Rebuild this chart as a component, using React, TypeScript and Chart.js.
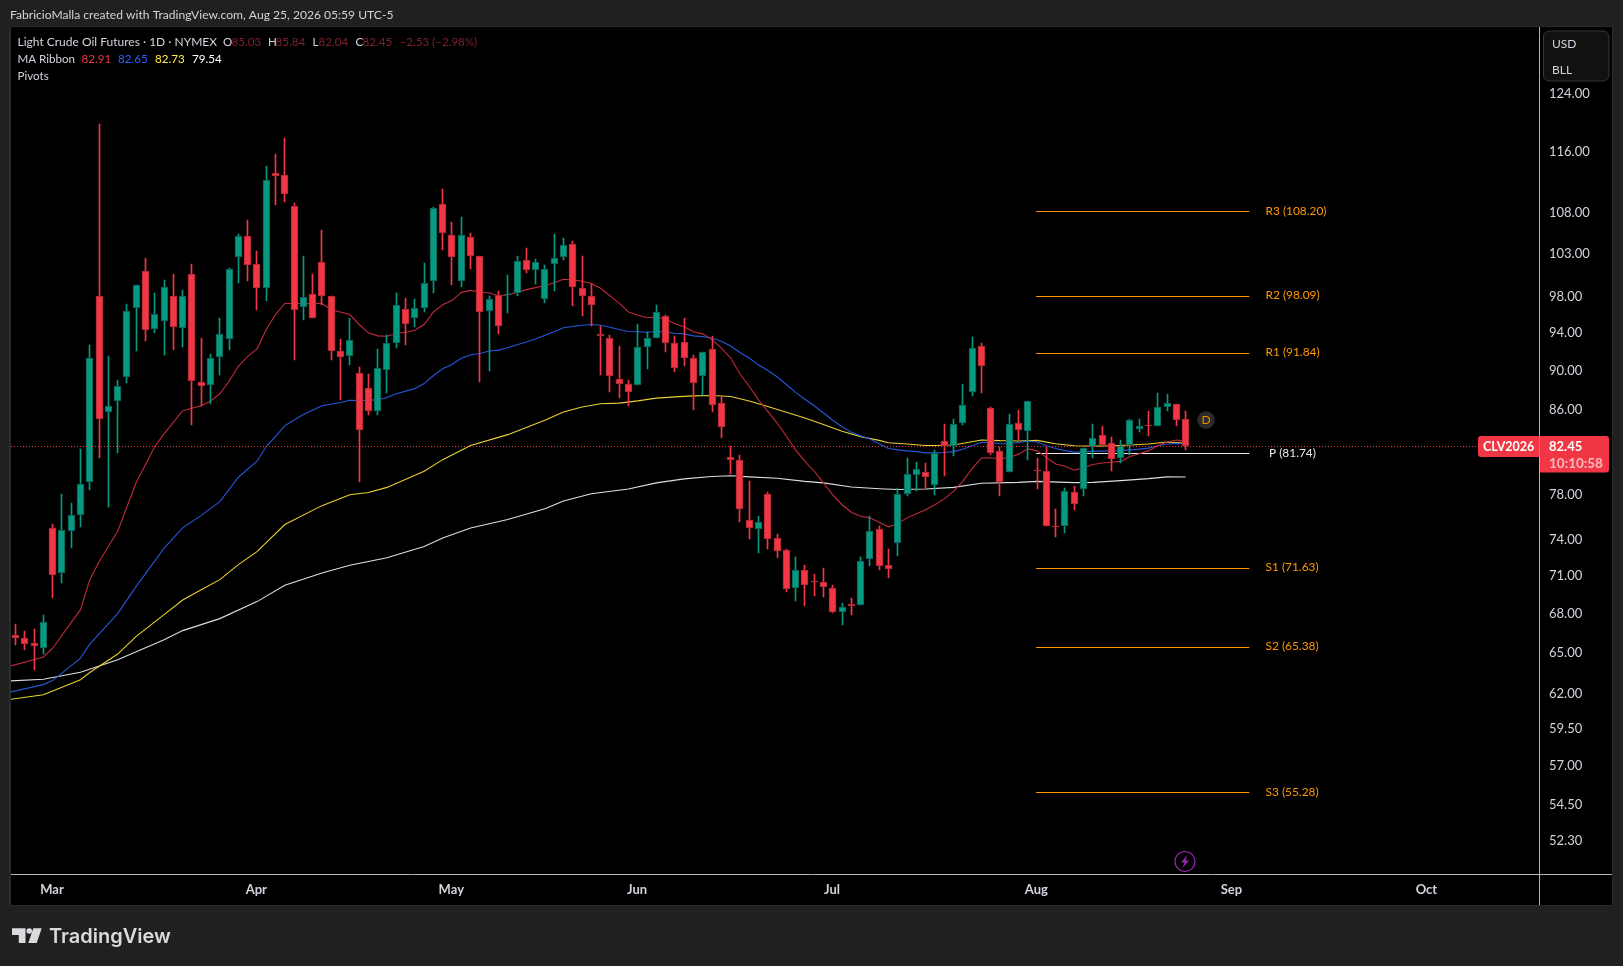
import React, { useEffect, useRef } from "react";
import { Chart, registerables } from "chart.js";

Chart.register(...registerables);

// Bars are addressed by trading-session index; index 0 is the first bar in view.
const opens = [66.27,66.04,65.65,65.31,75.00,71.19,74.73,76.13,79.09,98.04,85.71,86.85,89.30,96.70,100.95,94.40,95.28,98.04,94.51,100.60,88.78,88.47,91.37,93.30,102.57,105.10,101.76,98.97,113.05,112.70,108.83,96.81,98.27,101.99,98.04,92.00,91.48,89.71,88.16,85.85,90.03,92.86,96.59,95.60,96.70,99.78,109.04,105.23,99.78,105.00,102.64,96.37,98.21,98.20,98.39,102.22,101.06,97.69,101.76,102.57,104.12,98.97,98.04,93.85,93.41,89.07,88.55,88.47,92.43,93.41,95.82,92.86,92.97,91.27,89.41,92.21,86.63,81.40,81.12,75.69,74.91,77.99,74.13,73.09,69.96,71.44,70.50,70.45,69.96,68.05,68.67,68.59,72.35,74.91,71.85,73.69,77.99,79.74,80.01,78.79,82.92,82.43,84.68,87.75,92.54,86.14,81.95,79.98,84.68,83.89,80.15,80.11,75.14,75.17,78.17,78.45,82.36,83.47,82.72,81.30,82.53,84.09,84.50,84.38,86.24,86.53,85.03];
const highs = [67.14,66.60,66.76,67.84,75.37,78.00,77.20,82.17,92.68,119.55,91.51,89.02,97.17,99.35,102.49,98.42,99.82,100.52,98.77,101.79,93.45,91.72,95.53,101.33,105.39,106.99,103.30,114.00,115.57,117.75,109.16,102.72,100.52,105.76,98.07,93.34,95.53,90.37,89.64,92.24,93.77,98.42,97.84,97.73,101.91,108.71,111.00,106.74,107.48,105.51,102.72,98.07,98.65,100.40,102.72,103.67,102.37,101.64,105.27,104.90,104.53,102.72,99.43,94.76,93.74,92.57,89.02,94.87,94.10,97.06,95.97,93.66,95.53,91.61,91.89,93.66,87.29,82.43,81.61,79.21,76.07,78.20,74.50,73.17,72.53,71.88,71.14,71.63,70.23,68.79,69.16,72.53,76.07,75.17,73.20,78.54,81.33,80.96,80.87,82.07,84.61,85.10,88.61,93.55,92.90,86.24,82.39,85.58,85.97,86.82,81.33,82.39,76.68,78.54,78.75,82.27,84.61,84.41,83.34,83.05,85.07,85.10,85.87,87.68,87.57,86.56,85.84];
const lows = [65.52,65.13,63.61,64.82,69.19,70.40,73.31,75.05,78.32,81.27,76.79,81.82,88.64,92.06,93.04,93.92,91.54,92.16,92.46,84.44,86.36,86.53,89.54,92.16,99.50,99.72,96.51,97.50,108.95,109.24,91.09,95.34,95.60,97.06,91.09,86.95,90.58,79.06,85.49,85.49,87.68,92.38,92.68,94.62,96.29,98.42,103.42,99.35,99.12,101.10,88.74,89.88,93.88,96.19,98.07,100.63,99.47,97.28,98.65,102.18,96.95,95.86,94.76,89.44,87.78,87.16,86.36,88.47,90.16,93.41,91.92,89.75,90.47,85.97,87.44,85.78,83.24,79.77,75.55,74.05,72.86,73.20,72.45,69.68,68.92,68.54,69.33,69.25,67.94,67.07,67.84,68.59,71.79,71.47,70.81,72.62,77.83,78.22,78.57,77.92,79.61,81.45,84.51,87.36,87.68,81.61,77.83,79.98,83.05,81.08,78.47,75.17,74.24,74.59,76.59,77.83,81.33,82.53,80.13,80.81,81.58,83.83,83.44,84.38,85.87,84.41,82.04];
const closes = [66.00,65.54,65.39,67.27,71.00,74.82,76.09,78.91,91.27,85.07,86.34,88.40,96.37,99.27,94.29,96.04,99.04,94.62,98.04,88.89,88.36,91.27,93.85,101.21,105.10,101.64,98.97,112.14,112.61,110.31,96.48,97.92,95.60,98.04,92.06,91.37,93.15,83.99,85.85,90.19,92.86,97.03,94.95,96.66,99.48,108.55,105.47,102.57,105.23,102.69,96.26,97.69,94.73,98.30,102.06,101.01,101.99,101.17,102.41,103.95,99.09,98.04,97.03,93.63,89.41,88.55,87.75,92.43,93.41,96.26,92.86,90.23,91.27,88.68,91.89,86.43,84.29,81.12,76.65,75.00,75.52,74.04,73.00,69.88,71.44,70.21,70.42,70.04,68.05,68.43,68.56,72.18,74.73,71.77,71.52,77.99,79.83,80.29,79.55,81.77,82.43,84.58,86.43,92.32,90.44,81.82,79.06,84.58,83.99,86.82,80.05,75.17,75.07,78.27,77.09,82.24,83.21,82.53,81.21,82.43,84.97,84.38,84.44,86.24,86.63,84.97,82.45];

const ma1Index = [-0.5,3,4,6,7,8,9,11,12,13,15,16,18,20,21,22,23,24,25,26,27,28,29,33,34,36,37,38,39,40,41,42,43,44,45,46,47,48,49,50,51,52,53,54,55,56,57,58,59,60,61,62,63,64,65,66,67,68,69,70,71,72,73,74,75,76,77,78,79,80,81,82,83,84,85,86,87,88,89,90,91,92,93,94,95,96,97,98,99,100,101,102,103,104,105,106,107,108,109,110,111,112,113,114,115,116,117,118,119,120,121,122,123,124,125,126];
const ma1Values = [63.94,64.60,65.26,67.24,68.23,70.64,72.12,74.70,76.85,79.03,82.39,83.60,85.88,86.36,86.85,87.57,88.85,90.40,91.44,92.21,94.32,95.97,97.20,97.20,96.51,95.97,94.87,93.96,93.63,93.59,93.88,94.03,94.25,94.87,96.26,97.06,97.53,98.46,98.69,98.50,98.39,98.07,98.19,98.46,98.77,99.00,99.24,99.55,99.96,99.89,99.73,99.47,98.92,98.07,97.25,96.26,95.89,95.64,95.67,95.49,94.95,94.62,94.07,93.85,93.23,92.32,91.27,89.62,88.34,86.95,85.81,84.68,83.37,82.07,80.99,80.07,79.00,77.92,77.03,76.36,76.01,75.87,75.49,75.09,75.37,75.87,76.24,76.59,77.03,77.55,78.22,79.14,80.32,81.30,81.33,81.21,81.36,81.67,82.17,81.98,81.36,80.75,80.53,80.16,80.38,80.69,80.84,80.90,80.99,81.45,81.70,82.00,82.46,82.82,83.02,82.91];

const ma2Index = [-0.5,3,4,7,8,11,13,16,18,20,22,24,26,27,28,29,31,33,35,36,37,39,40,41,43,44,45,46,47,48,49,50,51,52,53,54,55,56,57,58,59,60,61,62,63,64,65,66,67,68,69,70,71,72,73,74,75,76,77,78,79,80,81,82,83,84,85,86,87,88,89,90,91,92,93,94,95,96,97,98,99,100,101,102,103,104,105,106,107,108,109,110,111,112,113,114,115,116,117,118,119,120,121,122,123,124,125,126];
const ma2Values = [62.05,62.57,62.86,64.52,65.57,67.92,70.09,73.26,75.00,76.09,77.31,79.52,81.00,82.39,83.37,84.41,85.49,86.36,86.69,86.92,86.88,86.95,87.19,87.57,88.09,88.61,89.44,90.13,90.58,91.23,91.61,91.75,92.00,92.10,92.35,92.68,92.97,93.30,93.70,94.07,94.51,94.65,94.79,94.87,94.79,94.57,94.32,94.10,94.07,94.03,94.10,94.07,93.92,93.85,93.63,93.55,93.37,93.04,92.54,91.85,91.27,90.55,89.96,89.31,88.51,87.71,87.02,86.36,85.65,84.93,84.29,83.76,83.41,83.11,82.66,82.20,82.07,81.98,81.91,81.79,81.79,81.82,81.91,82.14,82.46,82.78,82.82,82.66,82.66,82.78,82.92,82.82,82.46,82.20,82.00,81.86,81.86,81.95,81.95,81.98,82.00,82.07,82.14,82.24,82.46,82.63,82.69,82.65];

const ma3Index = [-0.5,3,7,8,11,13,16,18,20,22,24,26,29,33,36,38,40,44,46,49,53,57,59,61,63,65,67,69,71,73,75,77,79,81,83,85,87,89,91,93,94,96,98,99,101,103,104,106,108,110,112,114,116,118,120,122,124,126];
const ma3Values = [61.52,61.84,62.93,63.45,64.82,66.16,67.84,69.00,69.82,70.64,71.88,72.97,75.29,76.95,77.92,78.13,78.59,80.07,81.15,82.49,83.53,84.93,85.75,86.24,86.56,86.63,86.85,87.13,87.26,87.36,87.40,87.29,86.85,86.30,85.71,85.16,84.51,83.86,83.34,82.98,82.75,82.63,82.49,82.49,82.53,82.85,83.02,82.95,82.92,82.98,82.66,82.46,82.43,82.46,82.53,82.63,82.82,82.73];

const ma4Index = [-0.5,3,7,11,16,18,22,26,29,33,36,40,44,46,49,53,57,59,62,66,69,72,75,77,79,82,85,87,90,93,95,98,101,104,108,110,114,116,119,122,124,126];
const ma4Values = [62.84,62.96,63.47,64.40,65.90,66.60,67.53,68.87,70.18,71.19,71.82,72.45,73.40,74.12,74.99,75.72,76.68,77.37,78.01,78.45,79.00,79.37,79.58,79.65,79.55,79.42,79.14,79.00,78.63,78.47,78.40,78.45,78.59,78.96,79.05,79.14,79.02,79.05,79.21,79.39,79.55,79.54];

const pivotNames = ["R3","R2","R1","P","S1","S2","S3"];
const pivotLevels = [108.2,98.09,91.84,81.74,71.63,65.38,55.28];
const pivotSpan = [109.9,132.85];

const priceTicks = [124,116,108,103,98,94,90,86,78,74,71,68,65,62,59.5,57,54.5,52.3];
const monthNames = ["Mar","Apr","May","Jun","Jul","Aug","Sep","Oct"];
const monthIndex = [4,26,47,67,88,110,131,152];

const lastPrice = 82.45;
const UI_FONT = "Lato";
const TEXT = "#d1d4dc";
const RED = "#f23645";
const GREEN = "#089981";
const ORANGE = "#ff9800";

function text(ctx: CanvasRenderingContext2D, s: string, x: number, y: number, color: string, font: string) {
  ctx.font = font;
  ctx.fillStyle = color;
  ctx.textAlign = "left";
  ctx.textBaseline = "middle";
  ctx.fillText(s, x, y);
}

// Nudges the axis labels by a fixed offset after the scale has laid them out.
function nudgeLabels(scale: any, dx: number, dy: number) {
  const compute = scale._computeLabelItems;
  scale._computeLabelItems = function (area: any) {
    return compute.call(this, area).map((item: any) => ({
      ...item,
      options: {
        ...item.options,
        translation: [item.options.translation[0] + dx, item.options.translation[1] + dy],
      },
    }));
  };
}

const snapPlugin = {
  id: "snap",
  beforeDatasetsDraw(chart: any) {
    chart.data.datasets.forEach((ds: any, d: number) => {
      const meta = chart.getDatasetMeta(d);
      if (ds.kind === "wick" || ds.kind === "body") {
        meta.data.forEach((el: any) => {
          el.x = Math.floor(el.x) + 0.5;
          const a = Math.round(el.y);
          let b = Math.round(el.base);
          if (a === b) b = a + 1;
          el.y = a;
          el.base = b;
        });
      }
      if (ds.kind === "level") {
        meta.data.forEach((el: any) => {
          el.y = Math.round(el.y) + 0.5;
        });
      }
    });
  },
};

const framePlugin = {
  id: "frame",
  beforeDraw(chart: any) {
    const ctx = chart.ctx;
    ctx.save();
    ctx.fillStyle = "#202020";
    ctx.fillRect(0, 0, chart.width, chart.height);
    ctx.fillStyle = "#2a2a2a";
    ctx.fillRect(9, 26, 1604, 880);
    ctx.fillStyle = "#000000";
    ctx.fillRect(11, 27, 1601, 878);
    ctx.restore();
  },
  afterDraw(chart: any) {
    const ctx: CanvasRenderingContext2D = chart.ctx;
    const y = chart.scales.y;
    ctx.save();

    // Axis rules
    ctx.strokeStyle = "#b2b5be";
    ctx.lineWidth = 1;
    ctx.beginPath();
    ctx.moveTo(1539.5, 27);
    ctx.lineTo(1539.5, 905);
    ctx.moveTo(11, 874.5);
    ctx.lineTo(1612, 874.5);
    ctx.stroke();

    // Export header and legend
    text(ctx, "FabricioMalla created with TradingView.com, Aug 25, 2026 05:59 UTC-5", 10, 15, TEXT, `12.1px ${UI_FONT}`);
    const legendFont = `11.6px ${UI_FONT}`;
    const dim = "#7d222b";
    text(ctx, "Light Crude Oil Futures · 1D · NYMEX", 17.5, 42.5, TEXT, `12px ${UI_FONT}`);
    text(ctx, "O", 223, 42.5, TEXT, legendFont);
    text(ctx, "85.03", 231.5, 42.5, dim, legendFont);
    text(ctx, "H", 268, 42.5, TEXT, legendFont);
    text(ctx, "85.84", 275.5, 42.5, dim, legendFont);
    text(ctx, "L", 312.5, 42.5, TEXT, legendFont);
    text(ctx, "82.04", 318.5, 42.5, dim, legendFont);
    text(ctx, "C", 355.5, 42.5, TEXT, legendFont);
    text(ctx, "82.45", 362.5, 42.5, dim, legendFont);
    text(ctx, "−2.53 (−2.98%)", 399.5, 42.5, dim, legendFont);
    text(ctx, "MA Ribbon", 17.5, 59.5, TEXT, legendFont);
    text(ctx, "82.91", 81.5, 59.5, RED, legendFont);
    text(ctx, "82.65", 118, 59.5, "#2962ff", legendFont);
    text(ctx, "82.73", 155, 59.5, "#ffeb3b", legendFont);
    text(ctx, "79.54", 192, 59.5, "#ffffff", legendFont);
    text(ctx, "Pivots", 17.5, 76.5, TEXT, legendFont);

    // Pivot labels
    pivotNames.forEach((name, k) => {
      const py = y.getPixelForValue(pivotLevels[k]);
      const isP = name === "P";
      text(ctx, `${name} (${pivotLevels[k].toFixed(2)})`, isP ? 1269 : 1265.5, py, isP ? "#e8e8e8" : ORANGE, `11.9px ${UI_FONT}`);
    });

    // Unit box
    ctx.fillStyle = "#131010";
    ctx.strokeStyle = "#363636";
    ctx.beginPath();
    ctx.roundRect(1543.5, 31, 65.5, 50, 6);
    ctx.fill();
    ctx.stroke();
    text(ctx, "USD", 1552, 44.5, TEXT, `12px ${UI_FONT}`);
    text(ctx, "BLL", 1552, 70.5, TEXT, `12px ${UI_FONT}`);

    // Last price tags
    ctx.fillStyle = RED;
    ctx.beginPath();
    ctx.roundRect(1478, 436, 61.5, 21, [3, 0, 0, 3]);
    ctx.fill();
    ctx.beginPath();
    ctx.roundRect(1540, 436, 69, 36.5, [0, 3, 3, 0]);
    ctx.fill();
    text(ctx, "CLV2026", 1483, 447, "#ffffff", `700 12.5px ${UI_FONT}`);
    text(ctx, lastPrice.toFixed(2), 1549, 447, "#ffffff", `700 13px ${UI_FONT}`);
    text(ctx, "10:10:58", 1549, 463.5, "rgba(255,255,255,0.65)", `700 13.5px ${UI_FONT}`);

    // "D" badge
    ctx.fillStyle = "#2b2b2b";
    ctx.beginPath();
    ctx.arc(1206, 420, 8.7, 0, Math.PI * 2);
    ctx.fill();
    ctx.textAlign = "center";
    ctx.textBaseline = "middle";
    ctx.font = `12px ${UI_FONT}`;
    ctx.fillStyle = "#e68a00";
    ctx.fillText("D", 1206, 420.5);

    // Lightning badge
    ctx.strokeStyle = "#9c27b0";
    ctx.lineWidth = 1.2;
    ctx.beginPath();
    ctx.ellipse(1185, 861.5, 10, 10, 0, 0, Math.PI * 2);
    ctx.stroke();
    ctx.fillStyle = "#9c27b0";
    ctx.beginPath();
    ctx.moveTo(1187.5, 855);
    ctx.lineTo(1181, 862.5);
    ctx.lineTo(1184.5, 862.5);
    ctx.lineTo(1182.5, 868);
    ctx.lineTo(1189, 860.5);
    ctx.lineTo(1185.5, 860.5);
    ctx.closePath();
    ctx.fill();

    // TradingView mark
    ctx.fillStyle = "#d9dadd";
    ctx.beginPath();
    ctx.moveTo(12, 928.3);
    ctx.lineTo(25.5, 928.3);
    ctx.lineTo(25.5, 943);
    ctx.lineTo(18.8, 943);
    ctx.lineTo(18.8, 935);
    ctx.lineTo(12, 935);
    ctx.closePath();
    ctx.moveTo(28.3, 943);
    ctx.lineTo(36.7, 943);
    ctx.lineTo(41.7, 928.3);
    ctx.lineTo(33.3, 928.3);
    ctx.closePath();
    ctx.fill();
    ctx.beginPath();
    ctx.arc(29.3, 931, 2.8, 0, Math.PI * 2);
    ctx.fill();
    text(ctx, "TradingView", 49, 937, "#d9dadd", "600 20px Inter");

    ctx.restore();
  },
};

export default function App() {
  const ref = useRef<HTMLCanvasElement | null>(null);

  useEffect(() => {
    if (!ref.current) return;
    const idx = opens.map((_, i) => i);
    const candleColor = (i: number) => (closes[i] >= opens[i] ? GREEN : RED);
    const edgeColor = (i: number) => (closes[i] >= opens[i] ? "#0b5a4e" : "#a82733");

    const maSet = (label: string, xs: number[], ys: number[], color: string) => ({
      type: "line" as const,
      label,
      data: xs.map((x, k) => ({ x, y: ys[k] })),
      borderColor: color,
      borderWidth: 1.1,
      pointRadius: 0,
      tension: 0,
      order: 10,
    });

    const chart = new Chart(ref.current, {
      type: "bar",
      data: {
        datasets: [
          ...pivotLevels.map((lv, k) => ({
            type: "line" as const,
            kind: "level",
            label: pivotNames[k],
            data: pivotSpan.map((x) => ({ x, y: lv })),
            borderColor: pivotNames[k] === "P" ? "#e8e8e8" : ORANGE,
            borderWidth: 1,
            pointRadius: 0,
            order: 20,
          })),
          maSet("MA 1", ma1Index, ma1Values, "#c02a3a"),
          maSet("MA 2", ma2Index, ma2Values, "#2457d8"),
          maSet("MA 3", ma3Index, ma3Values, "#e8d030"),
          maSet("MA 4", ma4Index, ma4Values, "#dedede"),
          {
            type: "bar" as const,
            kind: "wick",
            label: "Wick",
            data: idx.map((i) => ({ x: i, y: [lows[i], highs[i]] })),
            backgroundColor: idx.map(candleColor),
            barThickness: 1,
            grouped: false,
            borderWidth: 0,
            order: 2,
          },
          {
            type: "bar" as const,
            kind: "body",
            label: "Body",
            data: idx.map((i) => ({ x: i, y: [opens[i], closes[i]] })),
            backgroundColor: idx.map(candleColor),
            borderColor: idx.map(edgeColor),
            borderWidth: 1,
            borderSkipped: false,
            barThickness: 7,
            grouped: false,
            order: 1,
          },
          {
            type: "line" as const,
            kind: "level",
            label: "Last",
            data: [{ x: -0.485, y: lastPrice }, { x: 164.1, y: lastPrice }],
            borderColor: RED,
            borderWidth: 1,
            borderDash: [1, 2],
            pointRadius: 0,
            order: 0,
          },
        ] as any,
      },
      options: {
        animation: false,
        responsive: false,
        devicePixelRatio: 1,
        maintainAspectRatio: false,
        layout: { padding: { left: 11, top: 27, right: 11, bottom: 61 } },
        plugins: { legend: { display: false }, tooltip: { enabled: false } },
        scales: {
          x: {
            type: "linear",
            offset: false,
            min: -0.485,
            max: 164.1,
            grid: { display: false },
            border: { display: false },
            afterBuildTicks: (s: any) => {
              s.ticks = monthIndex.map((value) => ({ value }));
            },
            afterFit: (s: any) => {
              s.height = 31;
            },
            afterUpdate: (s: any) => nudgeLabels(s, -0.7, 0),
            ticks: {
              autoSkip: false,
              maxRotation: 0,
              padding: 0,
              color: TEXT,
              font: { family: "Lato", size: 13, weight: 700 },
              callback: (v: any) => monthNames[monthIndex.indexOf(Number(v))] ?? "",
            },
          },
          y: {
            type: "logarithmic",
            position: "right",
            min: 50.27,
            max: 133.8,
            grid: { display: false },
            border: { display: false },
            afterBuildTicks: (s: any) => {
              s.ticks = priceTicks.map((value) => ({ value }));
            },
            afterFit: (s: any) => {
              s.width = 72.5;
            },
            afterUpdate: (s: any) => nudgeLabels(s, 0, 0.4),
            ticks: {
              autoSkip: false,
              padding: 1.5,
              color: TEXT,
              font: { family: "Lato", size: 13 },
              callback: (v: any) => Number(v).toFixed(2),
            },
          },
        },
      } as any,
      plugins: [snapPlugin, framePlugin],
    });
    return () => chart.destroy();
  }, []);

  return (
    <canvas
      ref={ref}
      width={1623}
      height={966}
      style={{ position: "fixed", left: 0, top: 0, width: 1623, height: 966, display: "block" }}
    />
  );
}
